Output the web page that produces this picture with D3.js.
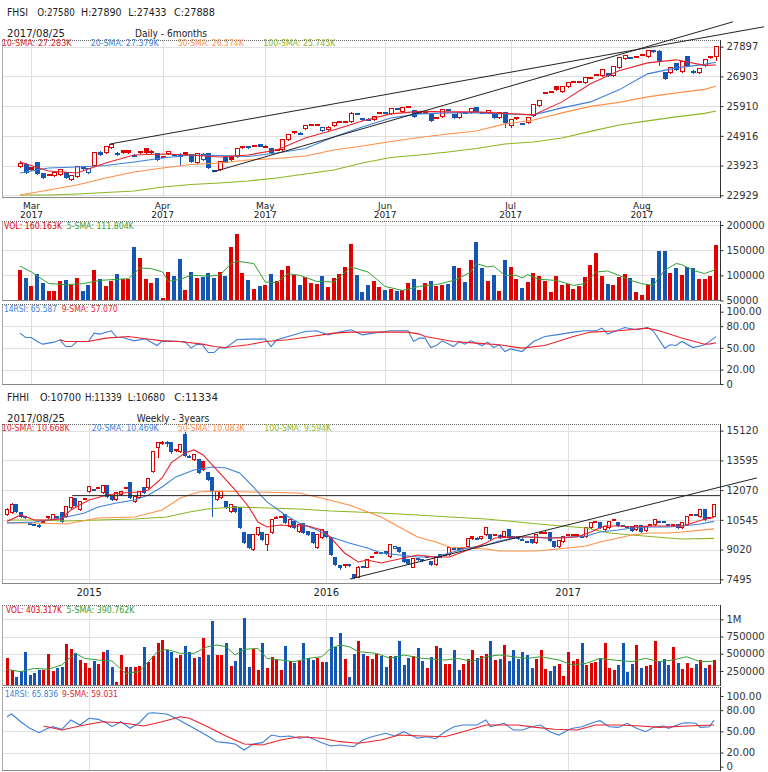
<!DOCTYPE html>
<html><head><meta charset="utf-8">
<script src="https://cdn.jsdelivr.net/npm/d3@7/dist/d3.min.js"></script>
<style>
body{margin:0;background:#fff;}
svg{display:block;font-family:"DejaVu Sans",Verdana,sans-serif;}
</style></head><body>
<svg id="chart" width="768" height="772"></svg>
<script>
// ================= DAILY (FHSI, 6 months) =================
const dOpen=[23876,23943,23843,24010,23642,23592,23575,23609,23676,23441,
23542,23850,23676,23910,24360,24345,24512,24312,24412,24412,
24250,24379,24479,24395,24312,24205,24312,24278,24262,24345,
24278,24010,24111,24312,23750,23776,24178,24211,24211,24512,
24512,24572,24613,24552,24479,24462,24446,24780,25048,24964,
25148,25299,25266,25081,25115,25249,25366,25366,25382,25657,
25449,25449,25449,25667,25690,25650,25825,25717,25878,25751,
25674,25680,25617,25523,25550,25790,25617,25516,25690,25684,
25851,25690,25684,25617,25516,25684,25249,25523,25322,25349,
25583,25918,26336,26377,26554,26387,26554,26711,26715,26688,
26845,26946,26922,26989,26922,27190,27491,27532,27548,27615,
27558,27759,27726,27023,27023,27324,27056,27558,27056,27023,
27257,27548,27580];
const dHigh=[24077,24010,23876,24044,23676,23642,23709,23810,23709,23609,
23910,23910,23843,24379,24412,24579,24646,24379,24446,24446,
24312,24412,24512,24430,24345,24245,24412,24312,24345,24379,
24312,24345,24345,24345,23776,24077,24211,24245,24512,24579,
24579,24613,24646,24600,24512,24479,24813,24981,25081,25048,
25282,25316,25316,25215,25230,25382,25416,25416,25700,25684,
25516,25500,25583,25717,25717,25851,25851,25885,25918,25784,
25717,25717,25650,25550,25818,25818,25650,25717,25717,25851,
25885,25717,25784,25650,25717,25717,25483,25550,25349,25550,
25985,26119,26387,26420,26588,26588,26721,26755,26760,26889,
26889,26989,27157,27023,27257,27558,27625,27558,27592,27658,
27792,27792,27792,27056,27224,27357,27425,27592,27123,27190,
27491,27592,27890];
const dLow=[23843,23642,23743,23609,23475,23558,23542,23575,23475,23408,
23508,23776,23642,23876,24245,24312,24479,24245,24312,24312,
24211,24312,24312,24320,24077,24178,24278,24245,23910,24245,
24010,23977,24077,23810,23709,23743,24010,24077,24178,24479,
24479,24546,24546,24520,24312,24412,24412,24747,24981,24930,
25115,25249,25230,25048,25081,25215,25349,25349,25349,25617,
25416,25416,25416,25650,25640,25617,25784,25684,25851,25516,
25650,25650,25382,25483,25516,25740,25483,25483,25640,25650,
25684,25650,25650,25483,25483,25182,25182,25449,25282,25316,
25550,25885,26320,26353,26420,26353,26521,26688,26690,26655,
26822,26922,26889,26889,26889,27157,27458,27491,27525,27592,
27525,27690,27257,26788,26989,27090,27023,27224,26989,26989,
27224,27491,27433];
const dClose=[23977,23676,23776,23642,23508,23609,23676,23776,23508,23575,
23876,23843,23810,24345,24278,24546,24613,24305,24345,24360,
24245,24345,24352,24359,24111,24211,24379,24272,24245,24278,
24044,24312,24295,23843,23743,24044,24034,24111,24479,24563,
24560,24579,24569,24572,24345,24446,24780,24948,25014,25008,
25249,25282,25289,25182,25189,25349,25382,25393,25667,25644,
25483,25473,25550,25684,25674,25818,25808,25851,25885,25550,
25684,25688,25416,25516,25784,25774,25516,25684,25674,25818,
25717,25677,25751,25516,25684,25349,25449,25483,25316,25516,
25952,26085,26353,26387,26454,26554,26688,26721,26728,26855,
26862,26956,27123,26922,27224,27525,27592,27518,27558,27625,
27759,27726,27425,26822,27190,27123,27391,27257,27050,27157,
27458,27558,27888];
const dVol=[110000,94600,78000,102600,84000,69300,69300,88000,90000,81300,
95300,69300,80000,111300,92000,79300,89300,103300,92000,92000,
156600,135300,92000,85300,95300,54600,106000,98600,132000,71300,
106000,95300,97300,104000,95300,106000,98600,156600,182000,104000,
90000,72700,79300,81300,102600,88000,111300,118000,100000,81300,
96700,84000,82000,98600,76000,94600,103300,116600,161300,100000,
66600,81300,88000,76600,70000,72000,68000,70000,85300,93300,
71300,85300,89300,78000,80000,82000,118600,115300,86600,131300,
165300,115300,88000,100000,68000,130000,116600,93300,75300,86600,
104000,99300,88000,66000,99300,81300,82600,72000,78000,97300,
120000,145300,99300,82000,80000,96700,103300,94600,66000,61300,
81300,94600,148600,148600,104000,115300,101300,117300,115300,92000,
93300,99300,160163];
const dSmaIdx=[0,5,10,15,20,25,30,35,40,45,50,55,60,65,70,75,80,85,90,95,100,105,110,115,120,122];
const dSma10=[24044,23743,23676,24010,24278,24312,24278,24211,24278,24446,24847,25115,25416,25650,25734,25717,25717,25667,25617,26052,26655,27090,27357,27458,27274,27283];
const dSma20=[23676,23843,23876,23927,24044,24178,24278,24262,24228,24345,24496,24881,25215,25516,25650,25684,25684,25650,25617,25851,26052,26454,26989,27190,27307,27379];
const dSma50=[22939,23107,23274,23508,23709,23843,23960,24010,24111,24161,24245,24446,24579,24730,24864,24981,25081,25316,25449,25684,25901,26035,26219,26353,26471,26574];
const dSma100=[22939,22939,22973,23023,23073,23207,23291,23341,23408,23508,23642,23776,24010,24194,24278,24379,24496,24646,24713,24847,25065,25282,25416,25550,25667,25745];
const dVolSmaIdx=[0,2,5,8,11,14,17,19,20,21,23,25,26,28,30,33,35,37,38,41,43,45,47,49,52,55,58,61,64,67,70,73,76,77,79,80,82,83,85,87,88,89,91,94,97,99,101,103,105,107,109,111,113,115,116,118,120,122];
const dVolSma=[118600,106600,84000,81400,83400,90000,92000,93400,103400,114600,113400,106600,88000,92000,100000,98600,100000,123400,128000,123400,86600,85400,103400,100000,88000,86600,116600,106600,78000,70000,78000,81400,90000,94600,106600,123400,116600,118600,100000,100000,94600,101400,92000,90000,80000,83400,106600,108600,100000,90000,83400,80000,110000,123400,121400,110000,103400,111804];
const dRsiIdx=[0,1,2,3,4,6,7,8,9,10,12,13,14,16,17,18,20,22,24,25,28,29,30,31,32,33,34,35,36,38,40,43,44,45,47,50,52,54,56,58,60,63,64,65,67,68,69,70,71,72,73,74,76,77,78,79,81,82,83,84,85,86,88,90,92,94,97,99,101,102,103,105,106,108,110,111,113,114,115,116,118,120,121,122];
const dRsi=[70.4,64.3,64.3,58.8,55.1,57.9,61.1,51.8,51.8,58.8,58.8,70.4,69,73.6,64.3,64.3,59.7,62.5,53.2,59.7,58.8,57.9,49.6,55.1,54.2,43.5,43.5,50.4,49.6,61.1,62.1,62.1,51.8,61.1,65.7,72.6,73.6,68,71.8,75,68,71.8,72.6,73.6,73.6,73.6,58.8,63.5,63.5,50.4,53.2,59.7,51.8,58.8,55.1,59.7,53.2,57.9,50.4,54.2,44.9,48.6,44.9,58.8,65.7,68,71.8,73.6,73.6,77.3,69,75,78.2,75,78.2,73.6,49.6,54.2,53.2,58.8,50.4,54.2,59.7,65.587];
const dRsiSmaIdx=[7,8,12,15,19,22,25,28,32,34,36,40,43,47,51,55,58,64,68,70,71,76,80,84,88,92,97,100,105,110,112,116,120,121,122];
const dRsiSma=[61.1,58.8,58.8,63.5,65.7,62.5,59.7,58.8,55.1,51.8,50.4,54.2,58.8,61.1,65.7,70.4,71.8,71.8,71.8,69,65.7,58.8,56.5,54.2,49.6,53.2,65.7,71.8,73.6,77.3,73.6,63.5,55.1,55.5,57.07];
const dTrendA=[[15.8,24646],[130.4,28562]];
const dTrendB=[[33.8,23709],[125,28730]];
const dMonthIdx=[2,25,43,64,86,109];
const dMonthLbl=["Mar","Apr","May","Jun","Jul","Aug"];
const dYearLbl=["2017","2017","2017","2017","2017","2017"];
const dPriceTicks=[22929,23923,24916,25910,26903,27897];
const dVolTicks=[50000,100000,150000,200000];
const rsiTicks=[0,20,50,80,100];
const rsiLbl=["0","20.00","50.00","80.00","100.00"];

// ================= WEEKLY (FHHI, 3 years) =================
const wOpen=[10797,10899,11310,10899,10694,10360,10300,10180,10420,10643,
10540,10720,10899,10694,11156,11618,11053,11600,11978,12100,
12160,11926,12286,11721,11567,11824,12160,12440,11464,11670,
12183,12183,13005,14238,14520,14520,14494,14160,14032,14900,
13800,13621,13621,13518,12953,12697,11567,11670,11464,10951,
11207,11156,9872,9770,9000,9770,9872,9256,9872,10620,
10680,10797,10180,10437,9924,10335,9924,9872,9102,9616,
9924,9616,8589,8180,8200,8240,7716,7613,8140,8126,
8620,8820,8870,8900,8640,9100,9102,8846,8486,8126,
8560,8440,8620,8383,8229,8743,8730,8743,9080,9070,
9080,9154,9667,9600,9564,9770,9770,9750,9760,9667,
10027,9680,9667,9520,9430,9513,9359,9850,9900,9872,
9410,9154,9410,9750,9770,9770,9700,9667,10129,10420,
10386,10027,10129,10520,10386,10240,10200,10180,10027,10232,
9975,10270,10283,10450,10440,10300,10270,10283,10129,10283,
10780,10800,10694,11053,10620,10700];
const wHigh=[11150,11400,11350,10950,10720,10420,10350,10320,10500,10750,
10850,10760,10950,11260,11720,11680,11520,11680,12290,12150,
12230,12330,12330,11760,11980,12030,12250,12500,11770,12030,
12230,12700,14080,14560,14600,14600,14550,14200,14450,15050,
13850,13950,13680,13560,13000,12750,12050,12050,11520,11360,
11260,11200,9920,9820,9820,10180,9920,9820,10590,10720,
10760,10850,10590,10490,10330,10380,9970,9920,9820,10080,
9970,9670,8640,8240,8280,8290,7770,8180,8200,8540,
8690,8900,8920,8950,9310,9200,9150,8900,8540,8590,
8610,8540,8690,8430,8690,8790,8790,9150,9130,9120,
9150,9610,9720,9650,9720,10180,9820,9800,9810,9970,
10080,9730,9720,9600,9480,9560,9820,9920,9950,9920,
9460,9510,9720,9820,9830,9840,9750,10180,10440,10490,
10440,10230,10490,10590,10440,10290,10250,10230,10280,10280,
10230,10330,10590,10500,10490,10350,10340,10330,10440,10740,
10850,10850,11100,11100,10690,11339];
const wLow=[10740,10850,10900,10650,10600,10280,10230,10130,10380,10600,
10500,10650,10390,10650,11100,11200,11000,11560,11930,12030,
12120,11880,11670,11500,11520,11780,12130,11600,11400,11620,
11880,12130,12950,13700,14400,14300,13950,14050,13980,13780,
13700,13560,12900,13050,12540,10694,11520,11620,11100,10900,
10900,10080,9310,9050,8950,9720,9460,8950,9820,10580,
10640,10330,10130,10080,9870,9820,9720,9310,9050,9560,
9620,8690,8180,7950,8100,8150,7500,7560,8050,8080,
8580,8780,8780,8760,8590,9050,8850,8330,8230,8080,
8450,8390,8580,8180,8180,8580,8690,8690,9000,8990,
9040,9100,9530,9520,9510,9720,9510,9700,9560,9620,
9560,9550,9510,9470,9360,9310,9310,9800,9830,9410,
9100,9100,9360,9700,9720,9720,9620,9620,10080,10380,
10080,9980,10080,10480,10180,10170,10130,9920,9980,9870,
9920,10220,10230,10390,10370,10230,10220,10080,10080,10230,
10740,10730,10640,10490,10580,10680];
const wClose=[11053,11310,10951,10694,10643,10335,10283,10270,10437,10694,
10797,10694,10437,11207,11670,11259,11464,11618,12234,12080,
12183,12286,11721,11567,11926,11978,12183,11670,11721,11978,
11926,12645,14032,14494,14494,14470,14032,14135,14393,13826,
13775,13878,12953,13107,12594,11978,11990,11995,11156,11310,
10951,10129,9359,9102,9770,10129,9513,9770,10540,10643,
10694,10386,10540,10129,10283,9872,9770,9359,9770,10027,
9667,8743,8229,8126,8229,8210,7562,8126,8100,8486,
8640,8846,8830,8810,9256,9154,8897,8383,8281,8540,
8500,8486,8640,8229,8640,8630,8743,9102,9051,9040,
9102,9564,9580,9570,9667,10129,9564,9770,9616,9924,
9616,9600,9564,9550,9410,9359,9770,9872,9880,9462,
9154,9462,9667,9770,9780,9790,9667,10129,10386,10437,
10129,10180,10437,10540,10232,10220,10180,9975,10232,9924,
10180,10283,10540,10437,10420,10283,10290,10129,10386,10694,
10797,10780,11053,10540,10643,11334];
const wVolK=[434,264,167,250,521,192,216,264,264,492,
250,297,312,641,564,515,409,370,297,395,
347,525,554,312,94,482,312,304,304,322,
593,384,467,651,699,554,521,434,482,612,
521,434,457,724,482,979,482,482,651,322,
399,579,1014,304,564,264,660,295,457,428,
264,612,399,370,399,660,434,409,434,384,
384,747,600,797,430,168,500,690,500,470,
420,500,470,310,470,470,690,330,440,470,
580,400,290,450,610,590,350,350,560,260,
350,430,560,440,470,500,680,410,420,630,
390,560,430,520,480,300,420,560,280,250,
320,350,180,530,390,420,650,330,360,380,
430,660,300,260,330,660,240,350,630,290,
320,330,680,400,420,330,600,360,280,370,
300,350,410,290,330,403.317];
const w10Idx=[0,3,6,9,12,14,18,22,25,29,31,34,36,39,41,43,46,50,53,55,57,60,63,66,69,71,74,77,79,82,86,90,94,97,101,105,107,111,114,118,121,125,128,131,134,137,141,145,148,151,153,155];
const wSma10=[10455,10797,10540,10540,10591,11053,11567,11824,11926,11978,12080,12697,13467,13981,14135,13878,13107,12080,11207,10437,10180,10283,10232,10232,10027,9616,8846,8383,8486,8332,8537,8743,8640,8640,9000,9359,9616,9667,9667,9616,9616,9667,9924,10232,10232,10180,10232,10232,10232,10437,10591,10668];
const w20Idx=[0,6,9,13,17,20,24,28,31,34,37,41,45,48,51,54,57,61,64,68,71,75,79,82,86,90,94,97,101,105,108,112,116,119,123,127,130,134,137,141,145,148,152,155];
const wSma20=[10386,10437,10540,10694,10899,11207,11413,11567,11824,12234,12748,13107,13261,13210,12953,12234,11464,10797,10386,10027,9667,9359,9102,8846,8743,8640,8640,8846,9102,9256,9462,9667,9667,9616,9667,9719,9924,10027,10129,10180,10180,10232,10335,10469];
const w50Idx=[0,6,13,20,28,34,38,42,46,53,64,68,75,82,86,90,94,97,101,105,108,116,123,127,130,134,137,141,145,148,155];
const wSma50=[10386,10386,10335,10643,10694,11053,11670,11978,12029,11978,11926,11721,11310,10694,10180,9667,9410,9154,9102,9051,8949,8949,9102,9205,9410,9616,9770,9872,9872,9924,10083];
const w100Idx=[0,6,13,20,28,35,40,44,50,57,64,71,82,90,97,105,112,119,127,132,137,145,148,155];
const wSma100=[10540,10540,10489,10540,10591,10694,10951,11105,11207,11156,11105,11002,10899,10797,10694,10591,10437,10283,10129,9872,9770,9616,9564,9594];
const wVolSmaIdx=[0,3,6,9,12,15,17,20,23,26,29,31,33,35,38,41,44,46,48,50,52,55,57,60,63,66,69,71,73,75,77,81,84,87,91,96,99,102,105,108,111,114,117,121,124,127,130,133,137,140,143,146,149,152,155];
const wVolSmaK=[274,240,288,274,337,506,433,409,395,216,240,385,530,564,506,506,603,627,603,482,564,578,433,409,385,433,457,578,627,603,530,506,433,482,433,409,433,385,457,482,457,433,457,409,337,361,433,409,385,433,385,409,457,385,390.762];
const wRsiIdx=[0,1,3,5,7,9,10,12,14,16,18,20,22,23,25,27,29,31,32,35,37,39,41,44,46,48,50,52,54,56,58,60,62,64,66,69,71,73,76,78,80,83,85,87,90,92,94,96,98,100,103,105,106,109,111,113,115,117,119,121,123,124,126,129,130,132,134,136,138,140,142,144,145,148,149,151,152,154,155];
const wRsi=[70.7,74.5,63.6,54.3,48.1,54.3,56.6,52.9,66,59,68.5,67,61.4,56.6,63.6,54.3,62.2,75.5,76.4,74.5,68.5,61.4,54.3,43.4,35.4,34,32.1,23.6,32.1,34,44.8,42.4,43.4,40.2,42.4,34,29.3,30.7,28.3,37.8,42.4,47.2,43.4,49.5,40.2,42.4,39.5,49.5,56.6,59,59,66,56.6,61.4,51.9,51.9,56.6,59,49.5,44.8,51.9,54.3,56.6,63.6,65.1,56.6,55.6,61.4,54.3,49.5,56.6,57.5,54.3,61.4,62.2,61.4,55.6,56.6,65.836];
const wRsiSmaIdx=[8,12,17,21,25,30,34,38,40,44,48,52,56,60,64,69,73,77,82,86,91,96,100,105,112,116,120,125,129,134,139,143,149,155];
const wRsiSma=[57.5,51.9,59,63.6,62.2,57.5,63.6,70.7,68.5,56.6,43.4,32.1,30.7,37.8,42.4,40.2,35.4,33.1,37.8,44.8,43.4,42.4,49.5,59,59,55.6,52.9,51.9,59,59,57.5,55.6,57.5,59.031];
const wHLine=[[14.3,11788],[156.3,11788]];
const wTrend=[[75.2,7510],[164.4,12697]];
const wYearIdx=[18,70,123];
const wYearLbl=["2015","2016","2017"];
const wPriceTicks=[7495,9020,10545,12070,13595,15120];
const wVolTicksK=[250,500,750,1000];
const wVolLbl=["250000","500000","750000","1M"];

// ================= DRAWING =================
const RED="#e00000", BLUE="#1456b4";
const C10="#e8232a", C20="#3d7fd9", C50="#ff8f47", C100="#8db523", CVS="#34a034";
const svg=d3.select("#chart");
const defs=svg.append("defs");
let clipN=0;

function fitText(sel,t){ // t = [x, y, text, width]
  sel.attr("x",t[0]).attr("y",t[1]).text(t[2]);
  if(t[3]) sel.attr("textLength",t[3]).attr("lengthAdjust","spacingAndGlyphs");
  return sel;
}

function drawSection(S){
  const g=svg.append("g");
  const n=S.C.length;
  const x=d3.scaleLinear().domain([0,n-1]).range(S.xRange);
  const col=i=>(i===0||S.C[i]>=S.C[i-1])?RED:BLUE;

  const hd=g.append("g").attr("font-size",10).attr("fill","#222");
  S.head.forEach(t=>fitText(hd.append("text"),t));

  S.panels.forEach(p=>{
    const pg=g.append("g");
    pg.selectAll("line.hg").data(p.grid).join("line").attr("class","hg")
      .attr("x1",3).attr("x2",720).attr("y1",d=>Math.round(p.y(d))+.5).attr("y2",d=>Math.round(p.y(d))+.5)
      .attr("stroke","#dedede");
    pg.selectAll("line.vg").data(S.vIdx).join("line").attr("class","vg")
      .attr("x1",d=>Math.round(x(d))+.5).attr("x2",d=>Math.round(x(d))+.5)
      .attr("y1",p.top).attr("y2",p.bottom).attr("stroke","#dedede");
    pg.append("line").attr("x1",2.5).attr("x2",2.5).attr("y1",p.top).attr("y2",p.bottom).attr("stroke","#aaa");
    pg.append("line").attr("x1",2).attr("x2",720).attr("y1",p.top+.5).attr("y2",p.top+.5).attr("stroke","#666").attr("stroke-dasharray","1,1");
    pg.append("line").attr("x1",2).attr("x2",720).attr("y1",p.bottom+.5).attr("y2",p.bottom+.5).attr("stroke","#888");
    pg.append("line").attr("x1",720.5).attr("x2",720.5).attr("y1",p.top).attr("y2",p.bottom+1).attr("stroke","#333");
    const ax=pg.append("g").attr("transform","translate(720.5,0)")
      .call(d3.axisRight(p.y).tickValues(p.ticks).tickFormat((d,i)=>p.labels?p.labels[i]:String(d)).tickSize(3).tickPadding(3).tickSizeOuter(0));
    ax.select(".domain").remove();
    ax.attr("font-family",null).attr("font-size",null);
    ax.selectAll("text").attr("font-size",10).attr("fill","#333");
    ax.selectAll("line").attr("stroke","#333");
    const id="clp"+(clipN++);
    defs.append("clipPath").attr("id",id).append("rect").attr("x",3).attr("y",p.top+1).attr("width",717).attr("height",p.bottom-p.top-1);
    p.body=pg.append("g").attr("clip-path",`url(#${id})`);
  });

  const [P,V,R]=S.panels;
  const lineOf=ys=>d3.line().x(d=>x(d[0])).y(d=>ys(d[1]));

  const idx=d3.range(n);
  const cg=P.body.append("g").attr("shape-rendering","crispEdges");
  cg.selectAll("line").data(idx).join("line")
    .attr("x1",i=>Math.round(x(i))+.5).attr("x2",i=>Math.round(x(i))+.5)
    .attr("y1",i=>P.y(S.H[i])).attr("y2",i=>P.y(S.L[i])).attr("stroke",col);
  const bw=S.bodyW;
  cg.selectAll("rect").data(idx).join("rect")
    .attr("x",i=>Math.round(x(i))-Math.floor(bw/2)+.5)
    .attr("width",bw-1)
    .attr("y",i=>Math.min(P.y(S.O[i]),P.y(S.C[i])))
    .attr("height",i=>Math.max(1,Math.abs(P.y(S.O[i])-P.y(S.C[i]))))
    .attr("fill",i=>S.C[i]>S.O[i]?"#fff":col(i))
    .attr("stroke",col);

  S.smas.forEach(s=>{
    P.body.append("path").datum(d3.zip(s.idx,s.val)).attr("d",lineOf(P.y))
      .attr("fill","none").attr("stroke",s.color).attr("stroke-width",1.1);
  });
  S.trends.forEach(t=>{
    g.append("path").datum(t).attr("d",lineOf(P.y)).attr("fill","none").attr("stroke","#222").attr("stroke-width",1);
  });

  V.body.append("g").attr("shape-rendering","crispEdges").selectAll("rect").data(S.vol).join("rect")
    .attr("x",(d,i)=>Math.round(x(i))-Math.floor(S.volW/2))
    .attr("width",S.volW)
    .attr("y",d=>V.y(d)).attr("height",d=>Math.max(0,V.bottom+1-V.y(d)))
    .attr("fill",(d,i)=>col(i));
  V.body.append("path").datum(d3.zip(S.volSmaIdx,S.volSma)).attr("d",lineOf(V.y))
    .attr("fill","none").attr("stroke",CVS).attr("stroke-width",1);

  R.body.append("path").datum(d3.zip(S.rsiIdx,S.rsi)).attr("d",lineOf(R.y))
    .attr("fill","none").attr("stroke",C20).attr("stroke-width",1.1);
  R.body.append("path").datum(d3.zip(S.rsiSmaIdx,S.rsiSma)).attr("d",lineOf(R.y))
    .attr("fill","none").attr("stroke",C10).attr("stroke-width",1.1);

  const xl=g.append("g").attr("font-size",S.xFont).attr("fill","#222").attr("text-anchor","middle");
  S.xLabels.forEach((lines,k)=>{
    lines.forEach((t,j)=>xl.append("text").attr("x",x(S.vIdx[k])).attr("y",S.xLabY+j*S.xLine).text(t));
  });

  const lg=g.append("g").attr("font-size",8);
  S.legends.forEach(l=>fitText(lg.append("text").attr("fill",l[4]),l));
}

// ---- daily section ----
const dP={top:40,bottom:197,y:d3.scaleLinear().domain([22929,27897]).range([195.3,46.7]),ticks:dPriceTicks,grid:dPriceTicks};
const dV={top:221,bottom:300,y:d3.scaleLinear().domain([50000,200000]).range([300.5,225]),ticks:dVolTicks,grid:[100000,150000,200000]};
const dR={top:304,bottom:384,y:d3.scaleLinear().domain([0,100]).range([384,311.7]),ticks:rsiTicks,labels:rsiLbl,grid:[20,50,80]};
drawSection({
  O:dOpen,H:dHigh,L:dLow,C:dClose,xRange:[20,716],bodyW:5,volW:4,
  head:[[7,16,"FHSI",21],[37.3,16,"O:27580",37.5],[81,16,"H:27890",40.5],[128.3,16,"L:27433",38.3],[174,16,"C:27888",41],
        [7,36.5,"2017/08/25",58],[135,36.5,"Daily - 6months",72]],
  panels:[dP,dV,dR],vIdx:dMonthIdx,
  xLabels:dMonthLbl.map((m,i)=>[m,dYearLbl[i]]),xLabY:209,xLine:9,xFont:9,
  smas:[{idx:dSmaIdx,val:dSma100,color:C100},{idx:dSmaIdx,val:dSma50,color:C50},{idx:dSmaIdx,val:dSma20,color:C20},{idx:dSmaIdx,val:dSma10,color:C10}],
  trends:[dTrendA,dTrendB],
  vol:dVol,volSmaIdx:dVolSmaIdx,volSma:dVolSma,
  rsiIdx:dRsiIdx,rsi:dRsi,rsiSmaIdx:dRsiSmaIdx,rsiSma:dRsiSma,
  legends:[[1.7,46,"10-SMA: 27.283K",70,C10],[90.7,46,"20-SMA: 27.379K",68,C20],[177.7,46,"50-SMA: 26.574K",66,C50],[263.3,46,"100-SMA: 25.745K",72,C100],
    [4,228.5,"VOL: 160.163K",58,RED],[66.7,228.5,"5-SMA: 111.804K",67,CVS],
    [4,311.5,"14RSI: 65.587",53,C20],[61.7,311.5,"9-SMA: 57.070",56,C10]]
});

// ---- weekly section ----
const wP={top:424,bottom:583,y:d3.scaleLinear().domain([7495,15120]).range([579.3,430.7]),ticks:wPriceTicks,grid:wPriceTicks};
const wV={top:605,bottom:685,y:d3.scaleLinear().domain([0,1000]).range([688.2,619.3]),ticks:wVolTicksK,labels:wVolLbl,grid:[250,500,750,1000]};
const wR={top:687,bottom:770,y:d3.scaleLinear().domain([0,100]).range([766.7,696]),ticks:rsiTicks,labels:rsiLbl,grid:[20,50,80]};
drawSection({
  O:wOpen,H:wHigh,L:wLow,C:wClose,xRange:[7,714],bodyW:4,volW:3,
  head:[[7,401,"FHHI",22],[40,401,"O:10700",41],[85,401,"H:11339",36.7],[127.7,401,"L:10680",37.3],[174.3,401,"C:11334",43.7],
        [7,421.7,"2017/08/25",58],[136.7,421.7,"Weekly - 3years",72.6]],
  panels:[wP,wV,wR],vIdx:wYearIdx,
  xLabels:wYearLbl.map(y=>[y]),xLabY:596,xLine:9,xFont:10,
  smas:[{idx:w100Idx,val:wSma100,color:C100},{idx:w50Idx,val:wSma50,color:C50},{idx:w20Idx,val:wSma20,color:C20},{idx:w10Idx,val:wSma10,color:C10}],
  trends:[wHLine,wTrend],
  vol:wVolK,volSmaIdx:wVolSmaIdx,volSma:wVolSmaK,
  rsiIdx:wRsiIdx,rsi:wRsi,rsiSmaIdx:wRsiSmaIdx,rsiSma:wRsiSma,
  legends:[[1.7,430.5,"10-SMA: 10.668K",68,C10],[91.7,430.5,"20-SMA: 10.469K",67,C20],[177.7,430.5,"50-SMA: 10.083K",67,C50],[264.3,430.5,"100-SMA: 9.594K",67,C100],
    [6,612.7,"VOL: 403.317K",56,RED],[66.5,612.7,"5-SMA: 390.762K",68,CVS],
    [5,697,"14RSI: 65.836",53,C20],[62,697,"9-SMA: 59.031",56,C10]]
});
</script>
</body></html>
